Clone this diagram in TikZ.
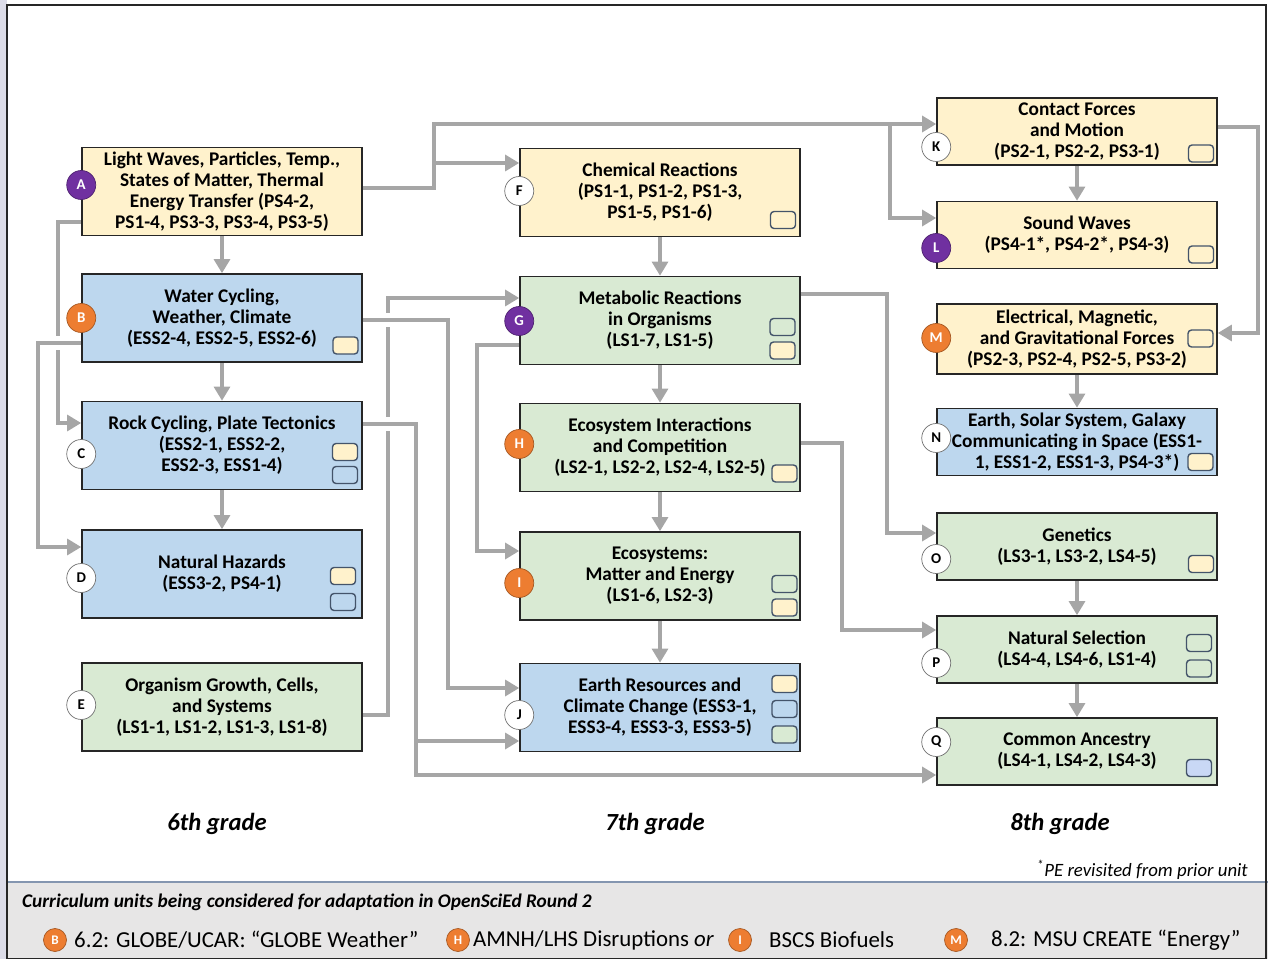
\documentclass[tikz,border=0pt]{standalone}
\usepackage{fontspec}
\setmainfont{Carlito}
\usetikzlibrary{arrows.meta,backgrounds}
\definecolor{unityellow}{HTML}{FFF2CC}
\definecolor{unitblue}{HTML}{BDD7EE}
\definecolor{unitgreen}{HTML}{D9EAD3}
\definecolor{chipblue}{HTML}{C9D8F5}
\definecolor{chipedge}{HTML}{44546A}
\definecolor{linkgrey}{HTML}{A6A6A6}
\definecolor{tagpurple}{HTML}{7030A0}
\definecolor{tagorange}{HTML}{ED7D31}
\definecolor{bandgrey}{HTML}{E7E6E6}
\definecolor{bandline}{HTML}{8496B0}
\definecolor{sidestrip}{HTML}{DCDCE8}
\begin{document}
\begin{tikzpicture}[
        x=0.02cm, y=-0.02cm,
        unit/.style={draw=black!85, line width=0.9pt, minimum width=5.6cm, minimum height=1.76cm,
          align=center, inner sep=0pt, font=\fontsize{11}{11.9}\selectfont\bfseries},
        short/.style={minimum height=1.34cm},
        tag/.style={circle, draw=black!55, fill=white, minimum size=0.58cm, inner sep=0pt,
          font=\fontsize{8.5}{9}\selectfont\bfseries},
        purpletag/.style={tag, fill=tagpurple, draw=tagpurple!70!black, text=white},
        orangetag/.style={tag, fill=tagorange, draw=tagorange!70!black, text=white},
        chip/.style={draw=chipedge, line width=0.8pt, rounded corners=2pt, minimum width=0.5cm,
          minimum height=0.34cm, inner sep=0pt},
        link/.style={draw=linkgrey, line width=2.6pt, -{Triangle[length=8pt,width=9pt]}},
        hop/.style={preaction={draw=white, line width=8pt, -}},
        grade/.style={font=\fontsize{14}{16}\selectfont\bfseries\itshape},
        legtag/.style={circle, fill=tagorange, draw=tagorange!70!black, text=white, minimum size=0.46cm,
          inner sep=0pt, font=\fontsize{7.5}{8}\selectfont\bfseries},
        legend/.style={anchor=west, font=\fontsize{13}{15}\selectfont}
      ]
      \useasboundingbox (0,0) rectangle (1268,959);
      \fill[sidestrip] (0,0) rectangle (7,959);
      \fill[bandgrey] (7,882) rectangle (1268,959);
      \draw[bandline, line width=1.2pt] (7,882) -- (1268,882);
      \draw[black!85, line width=1pt] (7,5) rectangle (1266,959);

      \node[unit, fill=unityellow] (A) at (222,191.5) {Light Waves, Particles, Temp.,\\ States of Matter, Thermal\\ Energy Transfer (PS4-2,\\ PS1-4, PS3-3, PS3-4, PS3-5)};
      \node[unit, fill=unitblue] (B) at (222,318) {Water Cycling,\\ Weather, Climate\\ (ESS2-4, ESS2-5, ESS2-6)};
      \node[unit, fill=unitblue] (C) at (222,445.5) {Rock Cycling, Plate Tectonics\\ (ESS2-1, ESS2-2,\\ ESS2-3, ESS1-4)};
      \node[unit, fill=unitblue] (D) at (222,574) {Natural Hazards\\ (ESS3-2, PS4-1)};
      \node[unit, fill=unitgreen] (E) at (222,707) {Organism Growth, Cells,\\ and Systems\\ (LS1-1, LS1-2, LS1-3, LS1-8)};

      \node[unit, fill=unityellow] (F) at (660,192.5) {Chemical Reactions\\ (PS1-1, PS1-2, PS1-3,\\ PS1-5, PS1-6)};
      \node[unit, fill=unitgreen] (G) at (660,320.5) {Metabolic Reactions\\ in Organisms\\ (LS1-7, LS1-5)};
      \node[unit, fill=unitgreen] (H) at (660,447.5) {Ecosystem Interactions\\ and Competition\\ (LS2-1, LS2-2, LS2-4, LS2-5)};
      \node[unit, fill=unitgreen] (I) at (660,576) {Ecosystems:\\ Matter and Energy\\ (LS1-6, LS2-3)};
      \node[unit, fill=unitblue] (J) at (660,707.5) {Earth Resources and\\ Climate Change (ESS3-1,\\ ESS3-4, ESS3-3, ESS3-5)};

      \node[unit, short, fill=unityellow] (K) at (1077,131.5) {Contact Forces\\ and Motion\\ (PS2-1, PS2-2, PS3-1)};
      \node[unit, short, fill=unityellow] (L) at (1077,235) {Sound Waves\\ (PS4-1*, PS4-2*, PS4-3)};
      \node[unit, short, minimum height=1.4cm, fill=unityellow] (M) at (1077,339) {Electrical, Magnetic,\\ and Gravitational Forces\\ (PS2-3, PS2-4, PS2-5, PS3-2)};
      \node[unit, short, fill=unitblue] (N) at (1077,442) {Earth, Solar System, Galaxy\\ Communicating in Space (ESS1-\\ 1, ESS1-2, ESS1-3, PS4-3*)};
      \node[unit, short, fill=unitgreen] (O) at (1077,546.5) {Genetics\\ (LS3-1, LS3-2, LS4-5)};
      \node[unit, short, fill=unitgreen] (P) at (1077,649.5) {Natural Selection\\ (LS4-4, LS4-6, LS1-4)};
      \node[unit, short, fill=unitgreen] (Q) at (1077,751.5) {Common Ancestry\\ (LS4-1, LS4-2, LS4-3)};

      \node[purpletag] (tA) at (A.west |- 0,185) {A};
      \node[orangetag] (tB) at (B.west |- 0,318) {B};
      \node[tag] (tC) at (C.west |- 0,454) {C};
      \node[tag] (tD) at (D.west |- 0,578) {D};
      \node[tag] (tE) at (E.west |- 0,705) {E};
      \node[tag] (tF) at (F.west |- 0,191) {F};
      \node[purpletag] (tG) at (G.west |- 0,321) {G};
      \node[orangetag] (tH) at (H.west |- 0,444) {H};
      \node[orangetag] (tI) at (I.west |- 0,583) {I};
      \node[tag] (tJ) at (J.west |- 0,715) {J};
      \node[tag] (tK) at (K.west |- 0,147) {K};
      \node[purpletag] (tL) at (L.west |- 0,248) {L};
      \node[orangetag] (tM) at (M.west |- 0,338) {M};
      \node[tag] (tN) at (N.west |- 0,438) {N};
      \node[tag] (tO) at (O.west |- 0,559) {O};
      \node[tag] (tP) at (P.west |- 0,663) {P};
      \node[tag] (tQ) at (Q.west |- 0,742) {Q};

      \node[chip, fill=unityellow] (cB1) at (345.5,345.5) {};
      \node[chip, fill=unityellow] (cC1) at (345,452) {};
      \node[chip, fill=unitblue] (cC2) at (345,475) {};
      \node[chip, fill=unityellow] (cD1) at (343,576) {};
      \node[chip, fill=unitblue] (cD2) at (343,602) {};
      \node[chip, fill=unityellow] (cF1) at (783,220) {};
      \node[chip, fill=unitgreen] (cG1) at (782.5,327) {};
      \node[chip, fill=unityellow] (cG2) at (782.5,350.5) {};
      \node[chip, fill=unityellow] (cH1) at (784.5,473.5) {};
      \node[chip, fill=unitgreen] (cI1) at (784.5,584) {};
      \node[chip, fill=unityellow] (cI2) at (784.5,607.5) {};
      \node[chip, fill=unityellow] (cJ1) at (784.5,684) {};
      \node[chip, fill=unitblue] (cJ2) at (784.5,709) {};
      \node[chip, fill=unitgreen] (cJ3) at (784.5,734.5) {};
      \node[chip, fill=unityellow] (cK1) at (1201,153.5) {};
      \node[chip, fill=unityellow] (cL1) at (1201,254.5) {};
      \node[chip, fill=unityellow] (cM1) at (1200.5,338.5) {};
      \node[chip, fill=unityellow] (cN1) at (1200.5,462) {};
      \node[chip, fill=unityellow] (cO1) at (1201,564) {};
      \node[chip, fill=unitgreen] (cP1) at (1199,643) {};
      \node[chip, fill=unitgreen] (cP2) at (1199,668.5) {};
      \node[chip, fill=chipblue] (cQ1) at (1199,768) {};

      \begin{scope}[on background layer]
        \foreach \a/\b in {A/B,B/C,C/D,F/G,G/H,H/I,I/J,K/L,M/N,O/P,P/Q}
          \draw[link] (\a) -- (\b);
        \draw[link] (A.east |- 0,188) -| (434,124) -- (K.west |- 0,124);
        \draw[link] (434,163) -- (F.west |- 0,163);
        \draw[link] (890,124) |- (L.west |- 0,218);
        \draw[link] (A.west |- 0,222) -| (58,423) -- (C.west |- 0,423);
        \draw[link] (E.east |- 0,715) -| (388,298) -- (G.west |- 0,298);
        \draw[link, hop] (B.west |- 0,343) -| (38,547) -- (D.west |- 0,547);
        \draw[link, hop] (B.east |- 0,320) -| (448,688) -- (J.west |- 0,688);
        \draw[link, hop] (C.east |- 0,424) -| (416,775) -- (Q.west |- 0,775);
        \draw[link] (416,741) -- (J.west |- 0,741);
        \draw[link] (G.west |- 0,345) -| (477,551) -- (I.west |- 0,551);
        \draw[link] (G.east |- 0,294) -| (887,533) -- (O.west |- 0,533);
        \draw[link] (H.east |- 0,443) -| (842,630) -- (P.west |- 0,630);
        \draw[link] (K.east |- 0,127) -| (1258,333) -- (M.east |- 0,333);
      \end{scope}

      \node[grade] (g6) at (217,824) {6th grade};
      \node[grade] (g7) at (655,824) {7th grade};
      \node[grade] (g8) at (1060,824) {8th grade};
      \node[anchor=east, font=\fontsize{10.7}{12}\selectfont\itshape] (note) at (1254,870) {\textsuperscript{*}PE revisited from prior unit};
      \node[anchor=west, font=\fontsize{11}{13}\selectfont\bfseries\itshape] (bandtitle) at (16,902) {Curriculum units being considered for adaptation in OpenSciEd Round 2};
      \node[legtag] (lB) at (55,940) {B};
      \node[legend] (lBt) at (68,940) {6.2: GLOBE/UCAR: “GLOBE Weather”};
      \node[legtag] (lH) at (458,940) {H};
      \node[legend] (lHt) at (467,940) {AMNH/LHS Disruptions \textit{or}};
      \node[legtag] (lI) at (740,940) {I};
      \node[legend] (lIt) at (763,940) {BSCS Biofuels};
      \node[legtag] (lM) at (956,940) {M};
      \node[legend] (lMt) at (985,940) {8.2: MSU CREATE “Energy”};
\end{tikzpicture}
\end{document}
